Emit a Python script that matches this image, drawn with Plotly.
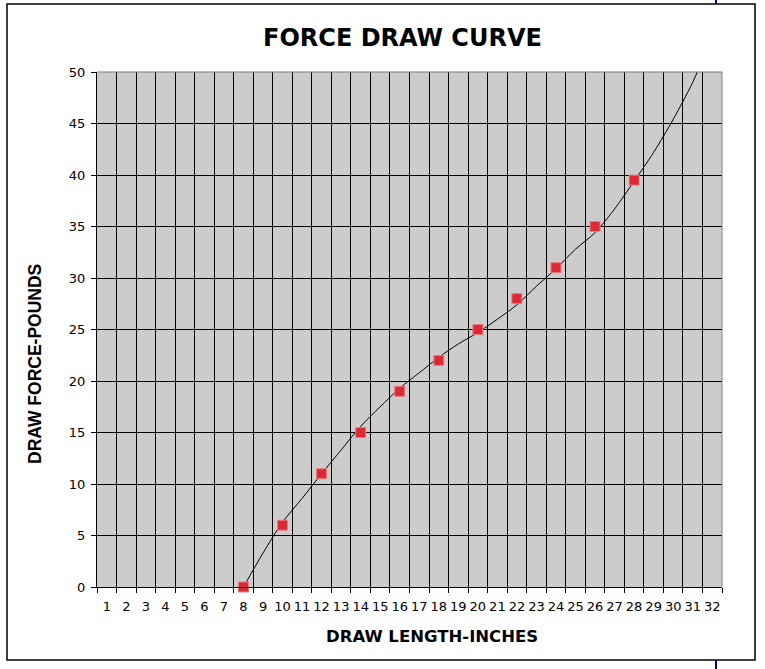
import plotly.graph_objects as go

# Measured points (draw length in inches vs draw force in pounds)
draw_length = [8, 10, 12, 14, 16, 18, 20, 22, 24, 26, 28]
draw_force = [0, 6, 11, 15, 19, 22, 25, 28, 31, 35, 39.5]

# Trendline, one value per inch
curve_length = [8, 9, 10, 11, 12, 13, 14, 15, 16, 17, 18, 19, 20,
                21, 22, 23, 24, 25, 26, 27, 28, 29, 30, 31, 32]
curve_force = [0, 3.3, 6.3, 8.6, 11.0, 13.3, 15.6, 17.5, 19.3, 20.8, 22.3, 23.6, 24.7,
               26.0, 27.4, 29.2, 30.9, 32.8, 34.4, 36.7, 39.4, 42.2, 45.4, 49.0, 53.5]

x_labels = list(range(1, 33))
y_ticks = list(range(0, 55, 5))

# plot area in page pixels
PX0, PX1, PY0, PY1 = 97, 722, 72, 587


def px(x):
    return (x - PX0) / (PX1 - PX0)


def py(y):
    return (PY1 - y) / (PY1 - PY0)


fig = go.Figure()

# trendline
fig.add_trace(go.Scatter(x=curve_length, y=curve_force, mode='lines',
                         line=dict(color='black', width=1, shape='spline', smoothing=0.8),
                         hoverinfo='skip', showlegend=False))

# measured points
fig.add_trace(go.Scatter(x=draw_length, y=draw_force, mode='markers',
                         marker=dict(symbol='square', size=10, color='#DC2A35',
                                     line=dict(color='#EE7A80', width=1)),
                         cliponaxis=False, showlegend=False))

tick_font = dict(family='DejaVu Sans', size=13, color='black')

fig.update_layout(
    width=765, height=669,
    margin=dict(l=97, r=43, t=72, b=82),
    paper_bgcolor='white',
    plot_bgcolor='#CCCCCC',
    xaxis=dict(
        range=[0.5, 32.5],
        tickmode='array', tickvals=x_labels, ticktext=[str(v) for v in x_labels],
        ticks='', showgrid=False, zeroline=False,
        showline=True, linecolor='black', linewidth=1,
        tickfont=tick_font, ticklabelstandoff=7,
        minor=dict(tickmode='array', tickvals=[v + 0.5 for v in range(0, 33)],
                   ticks='outside', ticklen=5, tickcolor='black',
                   showgrid=True, gridcolor='black', gridwidth=1),
    ),
    yaxis=dict(
        range=[0, 50],
        tickmode='array', tickvals=y_ticks,
        ticks='outside', ticklen=5, tickcolor='black',
        showgrid=True, gridcolor='black', gridwidth=1, zeroline=False,
        showline=True, linecolor='black', linewidth=1,
        tickfont=tick_font, ticklabelstandoff=3,
    ),
)

# titles
fig.add_annotation(text='<b>FORCE DRAW CURVE</b>', xref='paper', yref='paper',
                   x=px(402), y=py(38), showarrow=False, xanchor='center', yanchor='middle',
                   font=dict(family='DejaVu Sans', size=24, color='black'))
fig.add_annotation(text='<b>DRAW LENGTH-INCHES</b>', xref='paper', yref='paper',
                   x=px(432), y=py(636), showarrow=False, xanchor='center', yanchor='middle',
                   font=dict(family='DejaVu Sans', size=16.5, color='black'))
fig.add_annotation(text='<b>DRAW FORCE-POUNDS</b>', xref='paper', yref='paper',
                   x=px(35), y=py(364), showarrow=False, textangle=-90,
                   xanchor='center', yanchor='middle',
                   font=dict(family='Liberation Sans, Arial', size=17.5, color='black'))

# gray border on top and right of plot area
fig.add_shape(type='line', xref='paper', yref='paper', x0=0, x1=1, y0=1, y1=1,
              line=dict(color='#808080', width=1))
fig.add_shape(type='line', xref='paper', yref='paper', x0=1, x1=1, y0=0, y1=1,
              line=dict(color='#808080', width=1))

# chart area border
fig.add_shape(type='rect', xref='paper', yref='paper',
              x0=px(7), x1=px(755), y0=py(660), y1=py(4),
              line=dict(color='black', width=1.5), layer='below')

# page break marker of the sheet behind
fig.add_shape(type='line', xref='paper', yref='paper', x0=px(716), x1=px(716),
              y0=py(4), y1=py(0), line=dict(color='#0000A0', width=2))
fig.add_shape(type='line', xref='paper', yref='paper', x0=px(716), x1=px(716),
              y0=py(669), y1=py(660), line=dict(color='#0000A0', width=2))

fig.write_html("out.html", config={'displayModeBar': False},
               post_script="document.body.style.margin = '0';")
